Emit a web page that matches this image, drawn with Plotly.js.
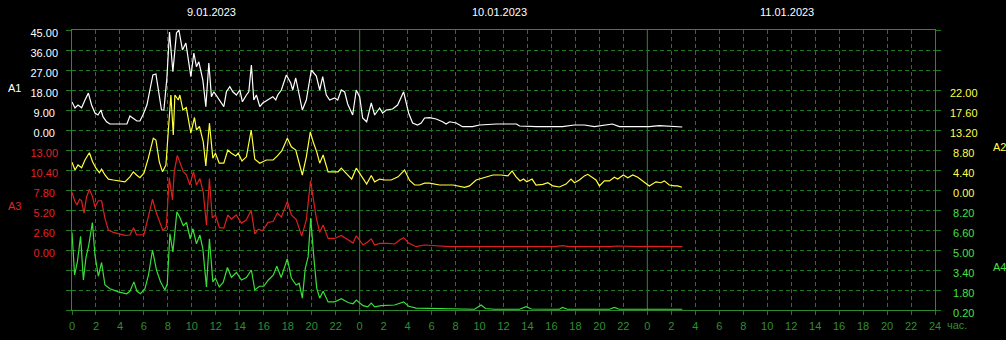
<!DOCTYPE html>
<html>
<head>
<meta charset="utf-8">
<script src="https://cdn.plot.ly/plotly-3.0.1.min.js"></script>
<style>html,body{margin:0;padding:0;background:#000;}#chart{width:1006px;height:340px;}</style>
</head>
<body>
<div id="chart"></div>
<script>
// ---- data (time in minutes from 9.01.2023 00:00) ----
const a1Min = [0,15,30,48,65,82,98,115,130,145,
  155,173,190,275,290,305,325,340,355,375,
  390,405,420,430,448,460,475,488,505,523,
  535,553,570,595,610,623,635,655,670,685,
  698,710,730,760,773,790,805,823,840,853,
  873,885,898,910,923,940,955,980,1005,1020,
  1030,1048,1073,1095,1105,1120,1130,1153,1173,1198,
  1223,1240,1255,1273,1290,1315,1330,1348,1365,1380,
  1405,1423,1440,1455,1475,1498,1515,1540,1555,1573,
  1605,1630,1660,1685,1705,1730,1748,1765,1790,1823,
  1855,1873,1890,1923,1955,2005,2040,2125,2225,2240,
  2325,2455,2515,2565,2615,2705,2740,2890,2940,2990,
  3055];
const a1Val = [12.6,9.9,11.25,10.0,13.5,16.6,11.25,7.65,6.75,9.0,
  6.0,3.7,2.7,2.7,6.3,5.4,4.05,4.05,6.75,11.25,
  18.9,24.75,25.2,18.9,9.0,9.0,23.4,44.1,26.2,43.65,
  45,36,39.15,24,34.65,28.5,30.7,22.5,10.5,30.15,
  15,17.2,14.4,10.5,17.2,19.5,17.2,15.75,18,12.7,
  15.75,17.2,29.25,13.5,15.75,10.5,12.15,13.5,15,13.5,
  15.75,18,24.75,21.15,18,23.4,18.9,9,13.5,27,
  24.3,18,24,15.75,13.5,14.4,13.5,18,17.1,11.7,
  6.75,18,14.85,5.4,3.7,12.15,6.75,9.9,7.65,9,
  9.45,11.25,17.2,7.65,3.15,2.25,3.15,5.4,5.6,4.95,
  3.7,2.7,3.7,3.15,1.5,1.5,2.25,2.7,2.7,1.8,
  1.5,1.5,2.25,2.25,1.5,2.7,1.5,1.5,2.0,1.6,
  1.35];

const a2Min = [0,15,30,48,65,87,103,120,137,148,
  165,182,207,240,265,290,307,323,340,360,
  382,407,420,437,453,470,487,495,507,515,
  532,540,555,572,595,613,623,638,657,670,
  688,705,718,737,760,780,798,820,832,851,
  873,897,915,940,973,1007,1028,1050,1078,1098,
  1120,1137,1153,1173,1193,1207,1225,1240,1257,1282,
  1307,1332,1348,1373,1400,1423,1450,1475,1498,1515,
  1540,1565,1598,1632,1665,1690,1715,1740,1765,1790,
  1840,1907,1965,1990,2023,2057,2107,2148,2182,2203,
  2223,2243,2260,2277,2303,2323,2357,2382,2407,2440,
  2473,2498,2515,2540,2565,2582,2607,2623,2640,2665,
  2690,2715,2732,2760,2782,2807,2832,2865,2890,2923,
  2948,2965,2990,3015,3032,3053];
const a2Val = [6.1,4.4,5.5,4.9,6.6,8.2,6.2,4.8,3.8,4.6,
  3.3,2.4,2.2,2.0,1.8,2.9,4.0,3.3,2.7,3.7,
  7.0,11.4,11.0,6.2,4.0,5.5,16.5,20.9,12.1,20.9,
  19.8,20.9,17.6,18.15,12.5,15.95,13.2,14.0,10.6,5.3,
  14.7,7.0,8.1,5.9,5.9,8.8,8.1,7.5,8.1,6.4,
  7.3,13.2,6.8,5.9,6.6,6.6,7.5,8.6,11.4,9.5,
  8.8,5.9,3.3,7.3,12.8,10.6,8.4,5.9,7.7,4.0,
  4.0,4.0,4.8,3.7,2.4,4.8,2.9,1.3,3.2,1.8,
  2.4,2.2,2.2,2.9,4.4,2.1,1.1,1.1,1.5,1.5,
  1.1,1.1,0.6,0.9,2.2,2.6,3.3,3.3,3.1,4.2,
  2.9,2.0,2.4,1.8,2.4,1.1,1.25,1.6,0.9,0.66,
  1.3,2.4,1.6,2.2,3.1,3.45,2.6,2.2,0.9,2.0,
  2.0,2.8,2.4,3.3,2.7,3.3,2.8,1.8,0.9,1.8,
  1.6,2.0,1.1,0.9,0.9,0.6];

const a3Min = [0,13,25,38,48,60,73,87,103,115,
  132,148,165,182,207,240,265,290,308,323,
  340,360,382,403,420,437,455,472,487,503,
  512,527,540,557,573,590,608,623,640,657,
  673,688,702,718,738,760,780,798,822,848,
  872,897,915,933,953,982,1007,1028,1048,1078,
  1098,1122,1150,1173,1194,1207,1223,1240,1257,1282,
  1315,1348,1382,1407,1423,1457,1480,1498,1515,1540,
  1582,1615,1640,1660,1685,1705,1723,1765,1807,1840,
  1890,2140,2415,2455,2490,2690,2730,2840,2890,3055];
const a3Val = [7.5,6.4,5.85,6.6,6.4,4.8,6.9,7.9,6.9,5.6,
  6.4,6.4,4.1,2.6,2.3,2.1,1.9,1.95,2.9,1.95,
  1.95,2.0,4.3,6.6,5.0,3.7,2.5,3.05,9.4,6.5,
  10.2,12.3,11.4,10.2,9.75,8.45,10.2,8.45,9.3,7.5,
  3.25,9.3,4.2,4.55,2.9,2.85,4.55,4.0,4.55,3.5,
  3.9,5.15,2.1,2.7,2.5,3.6,3.7,4.8,4.3,6.3,
  4.55,4.0,1.8,3.9,9.0,6.75,4.15,2.3,3.25,1.5,
  1.5,1.9,1.3,0.9,1.85,0.65,1.05,1.45,0.65,0.87,
  0.87,0.78,1.3,1.6,0.9,0.6,0.43,0.65,0.56,0.52,
  0.45,0.43,0.43,0.58,0.43,0.43,0.52,0.43,0.48,0.43];

const a4Min = [0,13,27,43,57,70,83,102,115,132,
  148,165,190,232,273,290,310,325,343,365,
  383,403,423,443,465,477,490,505,525,540,
  557,573,592,605,623,640,655,673,688,705,
  718,737,757,778,798,823,848,873,898,915,
  938,960,983,1008,1025,1047,1078,1098,1122,1137,
  1153,1168,1182,1195,1210,1225,1240,1257,1282,1315,
  1348,1382,1407,1423,1457,1480,1498,1515,1548,1615,
  1660,1685,1723,1840,2015,2048,2070,2115,2240,2273,
  2300,2440,2455,2480,2690,2715,2740,3055];
const a4Val = [6.4,3.0,4.05,6.1,2.6,4.4,5.3,7.2,4.6,2.9,
  4.0,2.2,1.9,1.65,1.5,1.7,2.45,1.7,1.5,1.9,
  3.0,5.0,3.4,2.45,1.8,2.3,6.3,4.85,8.05,7.6,
  6.95,7.2,5.9,6.7,5.5,6.2,5.1,2.05,5.9,2.45,
  2.75,2.05,2.4,3.6,2.8,3.2,2.6,2.8,3.4,1.8,
  2.1,2.1,2.6,3.0,3.7,2.8,4.3,2.75,2.2,2.35,
  1.15,3.55,4.45,7.55,4.5,1.95,1.15,1.7,0.85,0.85,
  1.1,0.8,0.7,1.0,0.55,0.45,0.75,0.45,0.55,0.6,
  0.85,0.5,0.35,0.32,0.26,0.6,0.32,0.26,0.26,0.46,
  0.28,0.26,0.4,0.26,0.26,0.4,0.26,0.26];

// ---- axis labels ----
const hourLabels = ['0','2','4','6','8','10','12','14','16','18','20','22',
  '0','2','4','6','8','10','12','14','16','18','20','22',
  '0','2','4','6','8','10','12','14','16','18','20','22','24'];
const dayLabels = ['9.01.2023','10.01.2023','11.01.2023'];
const a1Ticks = [0,9,18,27,36,45];
const a3Ticks = [0,2.6,5.2,7.8,10.4,13];
const a2Ticks = [0,4.4,8.8,13.2,17.6,22];
const a4Ticks = [0.2,1.8,3.4,5.0,6.6,8.2];
const seriesNames = ['A1','A2','A3','A4'];

// ---- styling ----
const FONT = 'Liberation Sans, Arial, sans-serif';
const GRID = '#1f7a1f';
const FRAME = '#2c8a2c';
const XLAB = '#2f8f2f';
const C1 = '#ffffff', C2 = '#ffff3c', C3 = '#dc2020', C4 = '#3ade3a';
const L1 = '#e02424', L2 = '#ffff48', L4 = '#44e044';

const PS = '\u2008'; // punctuation space used to center short labels
function fmtL(v){ const s = v.toFixed(2); return s.length < 5 ? s + PS : s; }
function fmtR(v){ const s = v.toFixed(2); return s.length < 5 ? PS + s : s; }

const traces = [
  {x:a1Min, y:a1Val, name:seriesNames[0], yaxis:'y', line:{color:C1,width:1.2}},
  {x:a3Min, y:a3Val, name:seriesNames[2], yaxis:'y2', line:{color:C3,width:1.2}},
  {x:a2Min, y:a2Val, name:seriesNames[1], yaxis:'y3', line:{color:C2,width:1.2}},
  {x:a4Min, y:a4Val, name:seriesNames[3], yaxis:'y4', line:{color:C4,width:1.2}},
  // empty trace that only registers the grid axis
  {x:[], y:[], yaxis:'y5', name:'grid', showlegend:false}
].map(t => Object.assign({type:'scatter', mode:'lines', hoverinfo:'skip'}, t));

const xTickVals = hourLabels.map((_, i) => i * 120);

function valAxis(side, range, ticks, fmt, color, extra){
  return Object.assign({
    side: side, range: range, fixedrange: true,
    tickmode: 'array', tickvals: ticks, ticktext: ticks.map(fmt),
    tickfont: {family: FONT, size: 11, color: color},
    ticks: '', showgrid: false, zeroline: false, showline: false,
    ticklabelshift: 3, ticklabelstandoff: side === 'left' ? 13 : 14
  }, extra || {});
}

const layout = {
  width: 1006, height: 340,
  margin: {l: 72, r: 71, t: 30, b: 30},
  paper_bgcolor: '#000', plot_bgcolor: '#000',
  showlegend: false,
  xaxis: {
    range: [0, 4320], fixedrange: true,
    tickmode: 'array', tickvals: xTickVals, ticktext: hourLabels,
    tickfont: {family: FONT, size: 11, color: XLAB},
    ticks: 'outside', ticklen: 4, tickcolor: GRID, tickwidth: 1,
    showgrid: true, gridcolor: GRID, griddash: '4px,3px', gridwidth: 1,
    showline: true, linecolor: FRAME, linewidth: 1, mirror: true,
    zeroline: false, ticklabelstandoff: 2
  },
  yaxis: valAxis('left', [-81, 45], a1Ticks, fmtL, C1),
  yaxis2: valAxis('left', [-7.8, 28.6], a3Ticks, fmtL, L1, {overlaying: 'y'}),
  yaxis3: valAxis('right', [-26.4, 35.2], a2Ticks, fmtR, L2, {overlaying: 'y'}),
  yaxis4: valAxis('right', [0.2, 22.6], a4Ticks, fmtR, L4, {overlaying: 'y'}),
  yaxis5: {
    overlaying: 'y', side: 'left', range: [0, 14], dtick: 1, tick0: 0,
    fixedrange: true, showticklabels: false,
    ticks: 'outside', ticklen: 5, tickcolor: GRID, tickwidth: 1,
    showgrid: true, gridcolor: GRID, griddash: '4px,3px', gridwidth: 1,
    showline: true, linecolor: FRAME, linewidth: 1, mirror: 'ticks',
    zeroline: false
  },
  shapes: [1440, 2880].map(v => ({
    type: 'line', xref: 'x', yref: 'paper', x0: v, x1: v, y0: 0, y1: 1,
    line: {color: FRAME, width: 1}, layer: 'below'
  })),
  annotations: [
    ...dayLabels.map((d, i) => ({
      text: d, xref: 'x', yref: 'paper', x: 700 + i * 1440, y: 1.064,
      xanchor: 'center', yanchor: 'middle', showarrow: false,
      font: {family: FONT, size: 11, color: '#ffffff'}
    })),
    {text: seriesNames[0], xref: 'paper', yref: 'paper', x: -0.0765, y: 0.793, xanchor: 'left', yanchor: 'middle', showarrow: false, font: {family: FONT, size: 11, color: C1}},
    {text: seriesNames[2], xref: 'paper', yref: 'paper', x: -0.0765, y: 0.373, xanchor: 'left', yanchor: 'middle', showarrow: false, font: {family: FONT, size: 11, color: L1}},
    {text: seriesNames[1], xref: 'paper', yref: 'paper', x: 1.0645, y: 0.582, xanchor: 'left', yanchor: 'middle', showarrow: false, font: {family: FONT, size: 11, color: L2}},
    {text: seriesNames[3], xref: 'paper', yref: 'paper', x: 1.0645, y: 0.154, xanchor: 'left', yanchor: 'middle', showarrow: false, font: {family: FONT, size: 11, color: L4}},
    {text: 'час.', xref: 'paper', yref: 'paper', x: 1.0116, y: -0.0535, xanchor: 'left', yanchor: 'middle', showarrow: false, font: {family: FONT, size: 11, color: XLAB}}
  ]
};

Plotly.newPlot('chart', traces, layout, {staticPlot: true, displayModeBar: false});
</script>
</body>
</html>
